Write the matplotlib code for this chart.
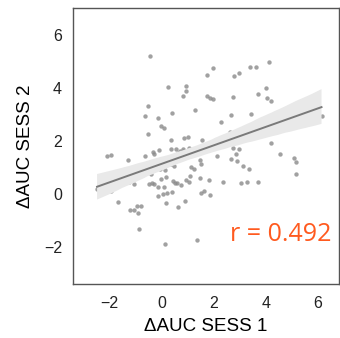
import matplotlib
matplotlib.use("Agg")
import matplotlib.pyplot as plt
import seaborn as sns
import numpy as np

# points (session 1 vs session 2)
sess1 = [-0.46, 1.96, 1.72, 3.40, 3.63, 4.10, 2.98, 2.78, 0.25, 0.92,
         0.92, 0.83, 1.72, 1.84, 1.96, 2.72, 3.99, 3.70, 4.03, 4.21,
         -0.51, -0.64, 0.39, 1.26, -0.16, 2.65, 3.43, 4.45, 5.16, 6.13,
         -0.02, 0.09, 2.29, 4.67, 4.06, -0.51, 2.60, 2.75, 4.04, 0.37,
         0.86, 1.01, 1.56, 2.60, 4.21, 0.53, 0.83, 1.03, 1.82, 2.72,
         2.95, -0.11, 0.76, 0.62, 0.70, -0.35, -0.29, -0.66, -2.11, -1.94,
         2.85, 2.64, 2.88, 2.13, 0.52, 0.61, -1.31, -0.45, -0.19, 0.07,
         0.14, 0.36, 0.47, 1.45, 1.50, 3.13, 3.35, 4.52, 5.07, 5.15,
         5.15, -1.45, -0.32, -0.07, 0.14, 1.12, 1.25, -1.28, -0.97, -0.41,
         -0.02, 0.15, 1.10, 1.47, 1.82, 0.92, 1.04, -1.25, -1.06, -0.49,
         -0.39, -0.30, -0.16, 0.10, 0.42, 0.50, 0.60, 0.74, 2.34, 3.03,
         3.29, 3.69, -2.48, -1.94, -0.16, 0.06, 0.19, 0.39, 1.50, 1.64,
         1.84, -1.69, 0.15, 0.90, 0.62, -0.96, -0.81, -1.21, -1.05, -0.91,
         -0.87, 0.11, 1.36, 0.37, 0.86]
sess2 = [5.20, 4.76, 4.47, 4.77, 4.77, 4.96, 4.55, 4.44, 4.02, 4.06,
         3.88, 3.68, 3.67, 3.62, 3.56, 3.66, 3.98, 3.75, 3.62, 3.48,
         3.32, 2.94, 3.03, 3.17, 2.85, 2.96, 3.00, 3.06, 3.00, 2.94,
         2.54, 2.48, 2.69, 2.58, 2.52, 2.24, 2.34, 2.29, 2.24, 2.02,
         2.11, 2.13, 2.02, 2.05, 1.92, 1.69, 1.69, 1.74, 1.82, 1.74,
         1.69, 1.65, 1.57, 1.55, 1.60, 1.57, 1.50, 1.44, 1.43, 1.48,
         1.50, 1.32, 1.23, 1.44, 1.38, 1.28, 1.27, 1.17, 1.09, 1.08,
         1.03, 1.12, 1.04, 1.28, 1.13, 1.05, 0.94, 1.49, 1.35, 1.18,
         0.74, 0.88, 0.88, 0.94, 0.90, 1.01, 0.93, 0.69, 0.63, 0.73,
         0.56, 0.63, 0.68, 0.58, 0.53, 0.51, 0.46, 0.44, 0.35, 0.35,
         0.39, 0.35, 0.26, 0.26, 0.48, 0.41, 0.39, 0.34, 0.45, 0.42,
         0.46, 0.44, 0.18, 0.09, -0.09, 0.00, 0.04, 0.06, 0.04, 0.09,
         -0.04, -0.31, -0.36, -0.29, -0.50, -0.48, -0.48, -0.61, -0.63, -0.74,
         -1.33, -1.88, -1.74, 1.67, 1.60]
r_label = "r = 0.492"
xticks = [-2, 0, 2, 4, 6]
yticks = [-2, 0, 2, 4, 6]

plt.rcParams["font.family"] = ["Liberation Sans", "DejaVu Sans"]

fig = plt.figure(figsize=(3.4, 3.38), dpi=100)
ax = fig.add_axes([0.215, 0.160, 0.782, 0.816])

sns.regplot(x=np.array(sess1), y=np.array(sess2), ax=ax, color="#808080",
            scatter_kws={"s": 10, "linewidths": 0, "color": "#8a8a8a"},
            line_kws={"lw": 1.4, "color": "#7a7a7a"}, seed=0)
ax.collections[1].set_facecolor("#e9e9e9")
ax.collections[1].set_alpha(1)

ax.set_xlim(-3.4, 6.8)
ax.set_ylim(-3.4, 7.0)
ax.set_xticks(xticks)
ax.set_yticks(yticks)
ax.tick_params(length=0, labelsize=11.5, colors="#222222")
ax.tick_params(axis="x", pad=9)
ax.tick_params(axis="y", pad=8)
for s in ax.spines.values():
    s.set_color("#555555")
    s.set_linewidth(1.0)

ax.set_xlabel("ΔAUC SESS 1", fontsize=13.5, labelpad=5)
ax.set_ylabel("ΔAUC SESS 2", fontsize=13.5, labelpad=7)

ax.text(6.5, -1.8, r_label, color="#ff5a1f", fontsize=18,
        family=["Open Sans", "DejaVu Sans"], ha="right", va="baseline")

fig.savefig("out.png", dpi=100)
